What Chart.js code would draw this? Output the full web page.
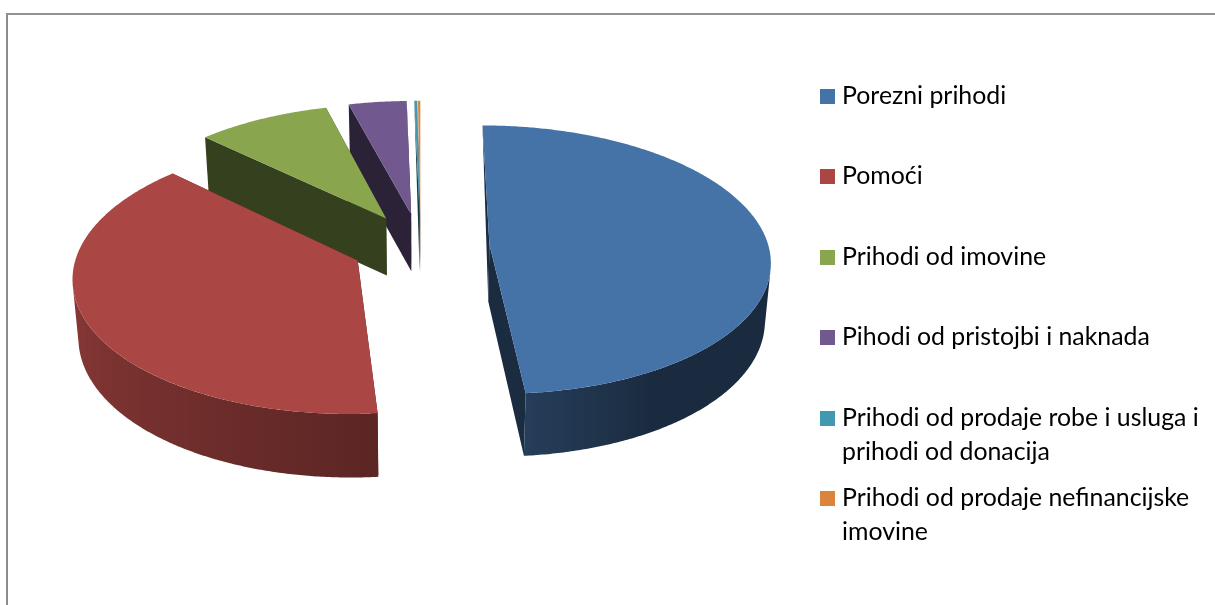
<!DOCTYPE html>
<html><head><meta charset="utf-8">
<script src="https://cdn.jsdelivr.net/npm/chart.js@4"></script>
<style>
html,body{margin:0;padding:0;background:#fff;overflow:hidden}
#frame{position:absolute;left:6px;top:13px;width:1209px;height:592px;border-left:2px solid #8c8c8c;border-top:2px solid #929292;box-sizing:border-box}
canvas{position:absolute;left:0;top:0}
</style></head><body>
<div id="frame"></div>
<canvas id="c" width="1215" height="605"></canvas>
<script>
const categories = [
  "Porezni prihodi",
  "Pomoći",
  "Prihodi od imovine",
  "Pihodi od pristojbi i naknada",
  ["Prihodi od prodaje robe i usluga i", "prihodi od donacija"],
  ["Prihodi od prodaje nefinancijske", "imovine"]
];
const shares = [48.6, 38.5, 8.75, 3.8, 0.2, 0.15];
const colors = ["#4572A7", "#AA4643", "#89A54E", "#71588F", "#4198AF", "#DB843D"];

const SCENE = {radius: 279, explode: 69, tilt: 0.476, dist: 2482, depth: 57, depthFront: 46, shrink: 0.983};
const LEGEND = {boxX: 820, boxSize: 15, textX: 842, font: '24.85px Lato', lineGap: 33.5,
                boxTops: [89, 169, 250, 330, 411, 491]};
const paintOrder = [3, 4, 5, 2, 1, 0];

function shade(hex, k) {
  const n = parseInt(hex.slice(1), 16);
  return `rgb(${Math.round((n >> 16 & 255) * k)},${Math.round((n >> 8 & 255) * k)},${Math.round((n & 255) * k)})`;
}
function light(deg) {           // deg clockwise from the top of the pie
  if (deg < 150) return 0.38;
  if (deg < 175) return 0.38 + (deg - 150) * 0.0064;
  return Math.min(0.84, 0.54 + (deg - 175) * 0.0032);
}

const pie3d = {
  id: 'pie3d',
  beforeDatasetsDraw(chart) {
    const ctx = chart.ctx, arcs = chart.getDatasetMeta(0).data;
    for (const i of paintOrder) drawSlice(ctx, arcs[i], colors[i]);
    return false;
  },
  afterDraw(chart) {
    const ctx = chart.ctx;
    ctx.save();
    ctx.font = LEGEND.font;
    ctx.textBaseline = 'alphabetic';
    categories.forEach((lab, i) => {
      const top = LEGEND.boxTops[i];
      ctx.fillStyle = colors[i];
      ctx.fillRect(LEGEND.boxX, top, LEGEND.boxSize, LEGEND.boxSize);
      ctx.fillStyle = '#000';
      [].concat(lab).forEach((line, j) => ctx.fillText(line, LEGEND.textX, top + 15 + j * LEGEND.lineGap));
    });
    ctx.restore();
  }
};

function drawSlice(ctx, arc, color) {
  const {x: cx, y: cy, startAngle: a0, endAngle: a1, outerRadius: R} = arc.getProps(['x', 'y', 'startAngle', 'endAngle', 'outerRadius'], true);
  const e = arc.options.offset, mid = (a0 + a1) / 2;
  const ox = Math.cos(mid) * e, oy = Math.sin(mid) * e;
  const top = (X, Y) => {
    const f = 1 / (1 - Y / SCENE.dist);
    return {x: cx + X * f, y: cy + SCENE.tilt * Y * f, f};
  };
  const bottom = p => ({
    x: cx + (p.x - cx) * SCENE.shrink,
    y: p.y + SCENE.depth + Math.max(0, p.f - 1) * SCENE.depthFront
  });
  const rim = a => top(ox + R * Math.cos(a), oy + R * Math.sin(a));
  const apex = top(ox, oy);
  const poly = (pts, fill) => {
    ctx.beginPath();
    pts.forEach((p, i) => i ? ctx.lineTo(p.x, p.y) : ctx.moveTo(p.x, p.y));
    ctx.closePath();
    ctx.fillStyle = fill;
    ctx.fill();
  };
  // radial walls; a wall running almost straight to the back tapers to its front foot
  const wall = shade(color, 0.39);
  for (const a of [a0, a1]) {
    const edgeOn = Math.abs(Math.cos(a)) < 0.04 && Math.sin(a) < 0;
    poly(edgeOn ? [apex, rim(a), bottom(apex)] : [apex, rim(a), bottom(rim(a)), bottom(apex)], wall);
  }
  // curved outer wall: only the part facing the viewer, up to the silhouette points
  const c0 = Math.max(a0, 0), c1 = Math.min(a1, Math.PI);
  if (c1 > c0) {
    const facing = a => {
      const p = rim(a), q = rim(a + 0.001), b = bottom(p);
      return (q.x - p.x) * (b.y - p.y) - (q.y - p.y) * (b.x - p.x) < 0;
    };
    const step = Math.PI / 720;
    let s0 = (c0 + c1) / 2, s1 = s0;
    while (s0 - step > a0 && facing(s0 - step)) s0 -= step;
    while (s1 + step < a1 && facing(s1 + step)) s1 += step;
    if (a0 > s0 - step) s0 = Math.max(a0, s0);
    if (a1 < s1 + step) s1 = Math.min(a1, s1 + step);
    const n = Math.ceil((c1 - c0) / (Math.PI / 180));
    const first = rim(c0).x, span = rim(c1).x - first;
    const g = ctx.createLinearGradient(first, 0, first + span, 0);
    for (let i = 0; i <= n; i++) {
      const a = c0 + (c1 - c0) * i / n;
      const t = Math.min(1, Math.max(0, (rim(a).x - first) / span));
      g.addColorStop(t, shade(color, light((a + Math.PI / 2) * 180 / Math.PI)));
    }
    const k = Math.ceil((s1 - s0) / (Math.PI / 360));
    const upper = [], lower = [];
    for (let i = 0; i <= k; i++) { const p = rim(s0 + (s1 - s0) * i / k); upper.push(p); lower.push(bottom(p)); }
    poly(upper.concat(lower.reverse()), g);
  }
  // top face
  const face = [apex];
  const m = Math.max(2, Math.ceil((a1 - a0) / (Math.PI / 360)));
  for (let i = 0; i <= m; i++) face.push(rim(a0 + (a1 - a0) * i / m));
  poly(face, color);
}

new Chart(document.getElementById('c'), {
  type: 'pie',
  data: {labels: categories, datasets: [{
    data: shares, backgroundColor: colors, borderWidth: 0,
    offset: SCENE.explode, radius: SCENE.radius, hoverOffset: 0
  }]},
  options: {
    responsive: false, animation: false, events: [],
    layout: {padding: {left: 0, top: 0, right: 373.8, bottom: 113}},
    plugins: {legend: {display: false}, title: {display: false}, tooltip: {enabled: false}}
  },
  plugins: [pie3d]
});
</script>
</body></html>
